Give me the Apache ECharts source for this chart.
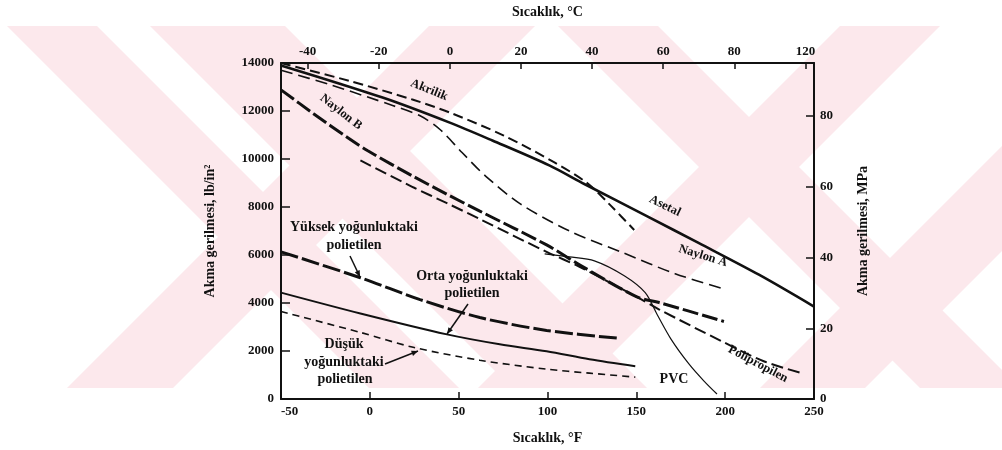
<!DOCTYPE html>
<html>
<head>
<meta charset="utf-8">
<script src="https://cdn.jsdelivr.net/npm/echarts@6/dist/echarts.min.js"></script>
<style>
  html, body { margin: 0; padding: 0; background: #ffffff; }
  #chart { width: 1002px; height: 450px; }
</style>
</head>
<body>
<div id="chart"></div>
<script>
// Yield strength (lb/in^2) of thermoplastics against temperature (°F).
// Each series: [temperature °F, yield strength lb/in^2]
const asetal = [[-50, 13900], [7.6, 12550], [45, 11515], [69, 10770], [101, 9734], [121, 8947], [157, 7580], [185, 6503], [219, 5178], [250, 3850]];
const akrilik = [[-50, 14000], [-11.5, 13254], [24.4, 12467], [46.2, 11900], [75.4, 10976], [103.9, 9858], [122.5, 8988], [135.9, 8035], [148.8, 7041]];
const naylonA = [[-50, 13700], [-22.2, 13090], [13.2, 12220], [28.3, 11800], [39.5, 11230], [51.9, 10270], [65.3, 9280], [84.9, 8120], [113.5, 6960], [142.6, 6090], [171.8, 5220], [198.7, 4600]];
const naylonB = [[-50, 12882], [-31.7, 11888], [-12.6, 10893], [-1.4, 10355], [24.4, 9278], [43.4, 8533], [61.9, 7828], [99.5, 6420], [118, 5592], [150, 4266], [162.9, 4018], [199.3, 3231]];
const polipropilen = [[-5.3, 9941], [24.4, 8822], [43.4, 8160], [61.9, 7497], [99.5, 6130], [118, 5510], [150, 4266], [162.9, 3728], [199.3, 2361], [221.7, 1574], [243, 1077]];
const pvc = [[98.4, 6047], [112.4, 5923], [126.4, 5757], [143.2, 5136], [155, 4432], [161.7, 3521], [169.6, 2485], [179.7, 1450], [188.1, 746], [195.4, 207]];
const yuksekPE = [[-50, 6130], [-5.3, 5053], [28.3, 4142], [61.9, 3396], [99.5, 2858], [140.4, 2527]];
const ortaPE = [[-50, 4432], [-5.3, 3562], [43.4, 2692], [73.1, 2278], [99.5, 1988], [123.6, 1657], [149.4, 1367]];
const dusukPE = [[-50, 3645], [-5.3, 2775], [24.4, 2154], [61.9, 1615], [99.5, 1243], [123.6, 1077], [149.4, 911]];

// Axis ticks
const fTicks = [-50, 0, 50, 100, 150, 200, 250];
const psiTicks = [0, 2000, 4000, 6000, 8000, 10000, 12000, 14000];
const mpaTicks = [0, 20, 40, 60, 80];
const cTickValues = [-40, -20, 0, 20, 40, 60, 80, 100];
const cTickLabels = ['-40', '-20', '0', '20', '40', '60', '80', '120'];

const FONT = '"Liberation Serif", "DejaVu Serif", serif';
const INK = '#111111';
const PINK = '#fce8ec';

const chart = echarts.init(document.getElementById('chart'), null, { renderer: 'canvas' });

function curve(name, data, width, dash) {
  return {
    name: name,
    type: 'line',
    data: data,
    xAxisIndex: 0,
    yAxisIndex: 0,
    smooth: 0.3,
    symbol: 'none',
    silent: true,
    lineStyle: { color: INK, width: width, type: dash || 'solid', cap: 'butt' },
    z: 3
  };
}

// text placed in pixel space; clockwise rotation in degrees
function tag(text, x, y, cwDeg, size) {
  return {
    type: 'text', x: x, y: y, rotation: -cwDeg * Math.PI / 180, z: 10,
    style: { text: text, fill: INK, font: 'bold ' + size + 'px ' + FONT, align: 'center', verticalAlign: 'middle' }
  };
}

function arrow(x1, y1, x2, y2) {
  const ang = Math.atan2(y2 - y1, x2 - x1);
  const len = 7, spread = 0.4;
  return [
    { type: 'line', z: 10, shape: { x1: x1, y1: y1, x2: x2, y2: y2 }, style: { stroke: INK, lineWidth: 1.5 } },
    { type: 'polygon', z: 10, shape: { points: [
        [x2, y2],
        [x2 - len * Math.cos(ang - spread), y2 - len * Math.sin(ang - spread)],
        [x2 - len * Math.cos(ang + spread), y2 - len * Math.sin(ang + spread)]
      ] }, style: { fill: INK } }
  ];
}

// Pale diagonal backdrop bands (45°) spanning y 26..388
const BAND_TOP = 26, BAND_BOT = 388, RISE = BAND_BOT - BAND_TOP;
function bandDown(a, b) { // "\" band, x-range at the top edge
  return { type: 'polygon', z: 0, silent: true,
    shape: { points: [[a, BAND_TOP], [b, BAND_TOP], [b + RISE, BAND_BOT], [a + RISE, BAND_BOT]] },
    style: { fill: PINK } };
}
function bandUp(a, b) { // "/" band, x-range at the bottom edge
  return { type: 'polygon', z: 0, silent: true,
    shape: { points: [[a, BAND_BOT], [b, BAND_BOT], [b + RISE, BAND_TOP], [a + RISE, BAND_TOP]] },
    style: { fill: PINK } };
}
const backdrop = [
  bandDown(7, 97), bandDown(150, 285), bandDown(558, 658),
  bandUp(67, 173), bandUp(478, 578), bandUp(760, 865)
];

const axisText = { color: INK, fontFamily: FONT, fontWeight: 'bold', fontSize: 13 };
const nameText = { color: INK, fontFamily: FONT, fontWeight: 'bold', fontSize: 14 };
const plain = v => (v < 0 ? '-' + Math.abs(v) : String(v));

chart.setOption({
  animation: false,
  backgroundColor: '#ffffff',
  grid: { left: 281, right: 188, top: 62, bottom: 50, containLabel: false },
  xAxis: [
    {
      type: 'value', position: 'bottom', min: fTicks[0], max: fTicks[fTicks.length - 1], interval: 50,
      name: 'Sıcaklık, °F', nameLocation: 'middle', nameGap: 32,
      nameTextStyle: nameText,
      axisLine: { onZero: false, lineStyle: { color: INK, width: 2 } },
      axisTick: { inside: true, length: 7, lineStyle: { color: INK, width: 1.5 } },
      axisLabel: Object.assign({ margin: 6, alignMinLabel: 'left', formatter: plain }, axisText),
      splitLine: { show: false }
    },
    {
      type: 'value', position: 'top', min: -47.5, max: 102.4,
      name: 'Sıcaklık, °C', nameLocation: 'middle', nameGap: 44,
      nameTextStyle: nameText,
      axisLine: { onZero: false, lineStyle: { color: INK, width: 2 } },
      axisTick: { inside: true, length: 6, customValues: cTickValues, lineStyle: { color: INK, width: 1.5 } },
      axisLabel: Object.assign({ margin: 5, customValues: cTickValues,
        formatter: v => cTickLabels[cTickValues.indexOf(v)] }, axisText),
      splitLine: { show: false }
    }
  ],
  yAxis: [
    {
      type: 'value', position: 'left', min: psiTicks[0], max: psiTicks[psiTicks.length - 1], interval: 2000,
      name: 'Akma gerilmesi, lb/in²', nameLocation: 'middle', nameGap: 64, nameRotate: 90,
      nameTextStyle: nameText,
      axisLine: { show: true, onZero: false, lineStyle: { color: INK, width: 2 } },
      axisTick: { show: true, inside: true, length: 9, lineStyle: { color: INK, width: 1.5 } },
      axisLabel: Object.assign({ margin: 7, formatter: plain }, axisText),
      splitLine: { show: false }
    },
    {
      type: 'value', position: 'right', min: mpaTicks[0], max: 95, interval: 20,
      name: 'Akma gerilmesi, MPa', nameLocation: 'middle', nameGap: 42, nameRotate: 90,
      nameTextStyle: nameText,
      axisLine: { show: true, onZero: false, lineStyle: { color: INK, width: 2 } },
      axisTick: { show: true, inside: true, length: 8, customValues: mpaTicks, lineStyle: { color: INK, width: 1.5 } },
      axisLabel: Object.assign({ margin: 6, customValues: mpaTicks, formatter: plain }, axisText),
      splitLine: { show: false }
    }
  ],
  series: [
    curve('Asetal', asetal, 2.6),
    curve('Akrilik', akrilik, 2, [10, 5]),
    curve('Naylon A', naylonA, 1.6, [12, 6]),
    curve('Naylon B', naylonB, 3, [16, 4]),
    curve('Polipropilen', polipropilen, 2, [12, 5]),
    curve('PVC', pvc, 1.2),
    curve('Yüksek yoğunluktaki polietilen', yuksekPE, 3, [18, 4]),
    curve('Orta yoğunluktaki polietilen', ortaPE, 2),
    curve('Düşük yoğunluktaki polietilen', dusukPE, 1.6, [7, 5])
  ],
  graphic: backdrop.concat([
    tag('Akrilik', 429, 90, 22, 12.5),
    tag('Naylon B', 341, 112, 38, 12.5),
    tag('Asetal', 665, 206, 26, 12.5),
    tag('Naylon A', 703, 256, 17, 12.5),
    tag('Polipropilen', 758, 364, 28, 12.5),
    tag('PVC', 674, 379, 0, 14),
    tag('Yüksek yoğunluktaki', 354, 227, 0, 14),
    tag('polietilen', 354, 245, 0, 14),
    tag('Orta yoğunluktaki', 472, 276, 0, 14),
    tag('polietilen', 472, 293, 0, 14),
    tag('Düşük', 344, 344, 0, 14),
    tag('yoğunluktaki', 344, 362, 0, 14),
    tag('polietilen', 345, 379, 0, 14)
  ]).concat(arrow(350, 256, 360, 277), arrow(468, 304, 447, 334), arrow(385, 364, 418, 351))
});
</script>
</body>
</html>
